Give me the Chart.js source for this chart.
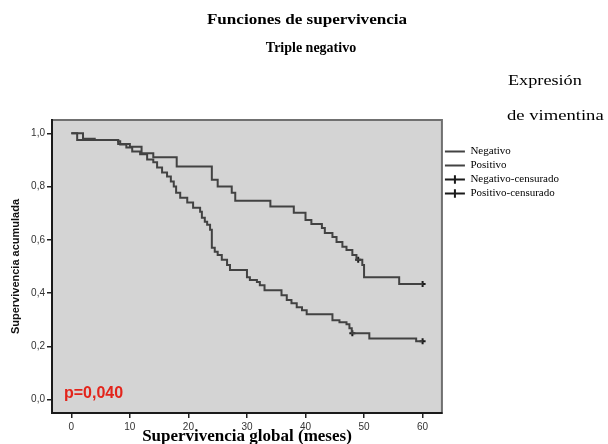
<!DOCTYPE html>
<html>
<head>
<meta charset="utf-8">
<script src="https://cdn.jsdelivr.net/npm/chart.js@4"></script>
<style>
  body { margin: 0; background: #fff; }
  #wrap { position: relative; width: 608px; height: 444px; }
  .note { position: absolute; font-family: "Liberation Serif", serif; font-size: 14px; line-height: 14px; white-space: nowrap; color: #000; }
  .bold { font-weight: bold; }
</style>
</head>
<body>
<div id="wrap">
  <canvas id="kmChart"></canvas>
  <div class="note bold" style="left:307px; top:13px; transform: translateX(-50%) scaleX(1.22);">Funciones de supervivencia</div>
  <div class="note bold" style="left:311px; top:41px; transform: translateX(-50%);">Triple negativo</div>
  <div class="note" style="left:508px; top:74px; transform: scaleX(1.3); transform-origin: left;">Expresión</div>
  <div class="note" style="left:507px; top:109px; transform: scaleX(1.33); transform-origin: left;">de vimentina</div>
  <div class="note" style="left:64px; top:384px; font-family: 'Liberation Sans', sans-serif; font-weight: bold; font-size: 16px; line-height: 18px; color: #e3241b;">p=0,040</div>
</div>
<script>
// Kaplan-Meier steps (months, cumulative survival)
const negativoTimes = [0, 2, 4, 8, 10, 12, 14, 18, 24, 25, 27.4, 28, 34, 38, 40, 41, 42.8, 43.3, 44.6, 45.3, 46.3, 47, 48, 48.7, 49.7, 50, 56, 60];
const negativoSurv = [1.0, 0.98, 0.975, 0.96, 0.95, 0.925, 0.91, 0.875, 0.826, 0.80, 0.777, 0.747, 0.725, 0.702, 0.675, 0.66, 0.645, 0.626, 0.611, 0.592, 0.574, 0.562, 0.543, 0.525, 0.506, 0.46, 0.434, 0.434];

const positivoTimes = [0, 1, 8, 8.35, 9.4, 10.4, 11.75, 12.95, 14, 14.65, 15.5, 16.35, 17, 17.5, 17.9, 18.6, 19.8, 20.8, 22, 22.3, 22.8, 23.2, 23.7, 24, 24.5, 25, 25.7, 26.6, 27.1, 30, 30.5, 31.7, 32.2, 33, 35.9, 36.8, 37.6, 38.5, 39.4, 40.2, 44.6, 45.8, 47, 47.5, 47.9, 50.9, 58.9, 60];
const positivoSurv = [1.0, 0.975, 0.97, 0.958, 0.947, 0.932, 0.921, 0.902, 0.891, 0.872, 0.853, 0.838, 0.819, 0.80, 0.777, 0.758, 0.74, 0.721, 0.706, 0.683, 0.668, 0.657, 0.638, 0.57, 0.555, 0.543, 0.525, 0.506, 0.487, 0.46, 0.449, 0.442, 0.43, 0.411, 0.392, 0.374, 0.362, 0.347, 0.336, 0.321, 0.298, 0.291, 0.283, 0.268, 0.249, 0.23, 0.219, 0.219];

// censored cases
const negativoCensTimes = [49, 60];
const negativoCensSurv = [0.525, 0.434];
const positivoCensTimes = [48, 60];
const positivoCensSurv = [0.249, 0.219];

const xTicks = [0, 10, 20, 30, 40, 50, 60];
const yTicks = [0, 0.2, 0.4, 0.6, 0.8, 1.0];
const yTickLabels = ["0,0", "0,2", "0,4", "0,6", "0,8", "1,0"];

const toPoints = (xs, ys) => xs.map((x, i) => ({ x: x, y: ys[i] }));

// grey plot panel with a thin frame
const plotBackground = {
  id: "plotBackground",
  beforeDraw(chart) {
    const { ctx, chartArea: { left, top, right, bottom } } = chart;
    ctx.save();
    ctx.fillStyle = "#d4d4d4";
    ctx.fillRect(left, top, right - left, bottom - top);
    ctx.strokeStyle = "#707070";
    ctx.lineWidth = 2;
    ctx.strokeRect(left, top, right - left, bottom - top);
    ctx.restore();
  },
};

const kmChart = document.getElementById("kmChart");

new Chart(kmChart, {
  type: "line",
  data: {
    datasets: [
      {
        label: "Negativo",
        data: toPoints(negativoTimes, negativoSurv),
        stepped: true,
        borderColor: "#424242",
        borderWidth: 2,
        pointRadius: 0,
        pointStyle: "line",
      },
      {
        label: "Positivo",
        data: toPoints(positivoTimes, positivoSurv),
        stepped: true,
        borderColor: "#424242",
        borderWidth: 2,
        pointRadius: 0,
        pointStyle: "line",
      },
      {
        label: "Negativo-censurado",
        data: toPoints(negativoCensTimes, negativoCensSurv),
        showLine: false,
        pointStyle: "cross",
        pointRadius: 3,
        borderColor: "#1a1a1a",
        borderWidth: 2,
      },
      {
        label: "Positivo-censurado",
        data: toPoints(positivoCensTimes, positivoCensSurv),
        showLine: false,
        pointStyle: "cross",
        pointRadius: 3,
        borderColor: "#1a1a1a",
        borderWidth: 2,
      },
    ],
  },
  options: {
    responsive: true,
    maintainAspectRatio: false,
    animation: false,
    layout: { padding: { top: 120, right: 39, bottom: 0, left: 0 } },
    plugins: {
      tooltip: { enabled: false },
      legend: {
        position: "right",
        align: "start",
        fullSize: false,
        title: { display: true, text: " ", padding: { top: 13, bottom: 0 }, font: { size: 10, lineHeight: 1 } },
        labels: {
          usePointStyle: true,
          pointStyleWidth: 20,
          boxHeight: 6,
          padding: 3,
          color: "#000",
          font: { family: "Liberation Serif", size: 11 },
        },
      },
    },
    scales: {
      x: {
        type: "linear",
        min: -3.3,
        max: 63.3,
        afterBuildTicks: (s) => { s.ticks = xTicks.map((v) => ({ value: v })); },
        afterFit: (s) => { s.height = 31; },
        ticks: { color: "#333", padding: 3, font: { family: "Liberation Sans", size: 10 } },
        grid: { drawOnChartArea: false, tickLength: 5, color: "#222", lineWidth: 1.5 },
        border: { color: "#1a1a1a", width: 2 },
        title: {
          display: true,
          text: "Supervivencia global (meses)",
          color: "#000",
          padding: 0,
          font: { family: "Liberation Serif", size: 17, weight: "bold", lineHeight: 0.85 },
        },
      },
      y: {
        min: -0.05,
        max: 1.05,
        afterBuildTicks: (s) => { s.ticks = yTicks.map((v) => ({ value: v })); },
        afterFit: (s) => { s.width = 52; },
        ticks: {
          color: "#333",
          padding: 2,
          font: { family: "Liberation Sans", size: 10 },
          callback: (v) => yTickLabels[yTicks.findIndex((t) => Math.abs(t - v) < 1e-6)],
        },
        grid: { drawOnChartArea: false, tickLength: 5, color: "#222", lineWidth: 1.5 },
        border: { color: "#1a1a1a", width: 2 },
        title: {
          display: true,
          text: "Supervivencia acumulada",
          color: "#111",
          padding: { top: 9, bottom: 0 },
          font: { family: "Liberation Sans", size: 11, weight: "bold" },
        },
      },
    },
  },
  plugins: [plotBackground],
});
</script>
</body>
</html>
